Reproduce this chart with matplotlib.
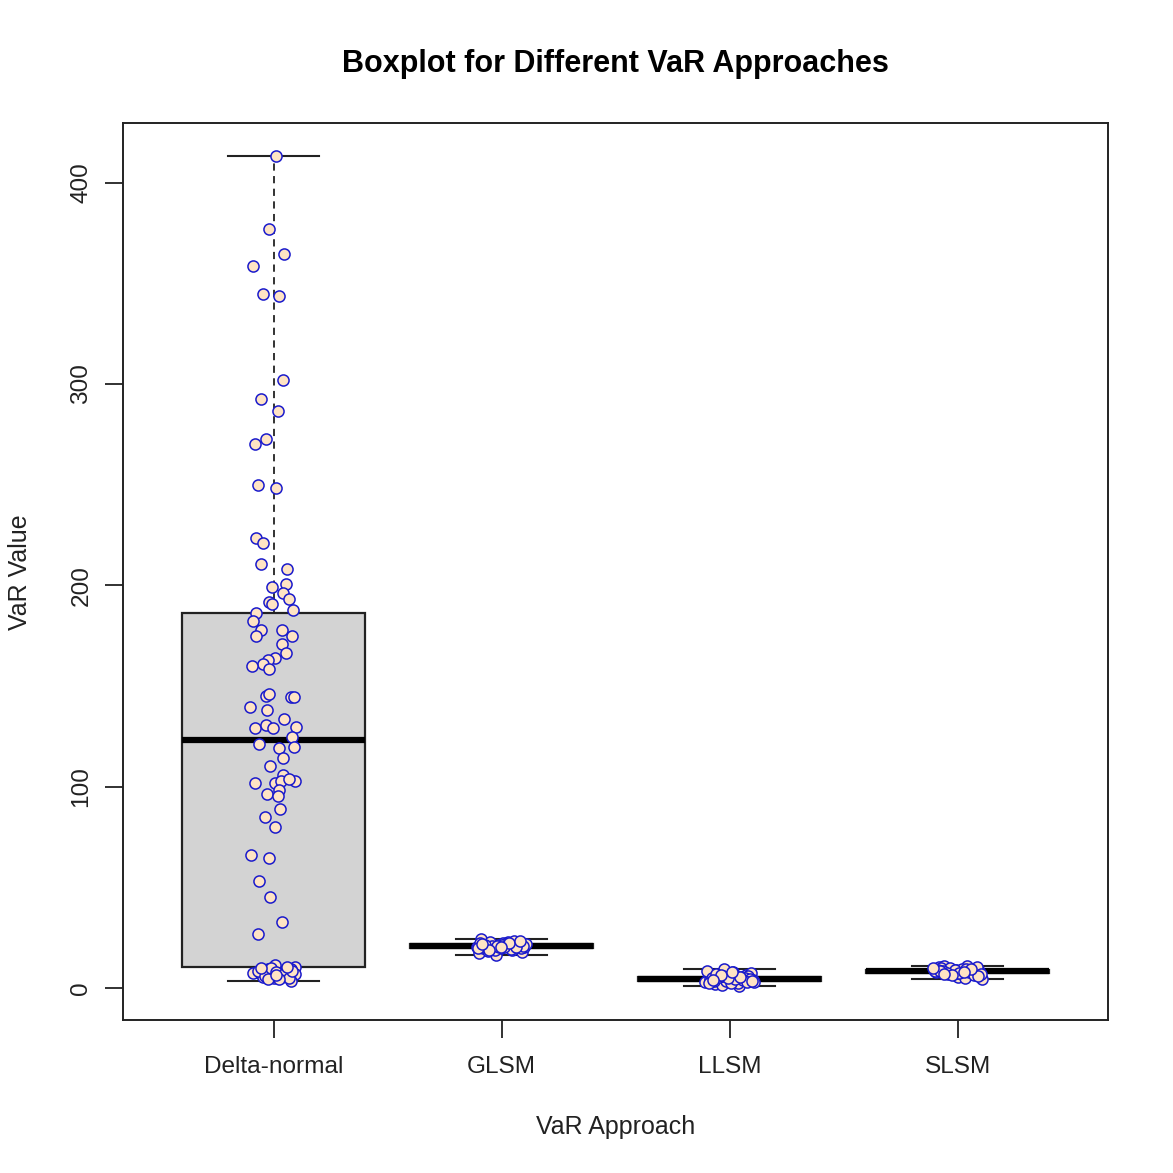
import matplotlib
matplotlib.use("Agg")
import matplotlib.pyplot as plt
from matplotlib import cbook
import numpy as np

plt.rcParams['font.family'] = ['Liberation Sans', 'DejaVu Sans']

# Categories
approaches = ["Delta-normal", "GLSM", "LLSM", "SLSM"]

# VaR values
delta_normal = [
    413.0, 377.0, 364.6, 358.5, 344.6, 343.8, 302.0, 292.6, 286.5, 272.5, 270.0,
    250.0, 248.3, 223.7, 221.2, 210.4, 208.3, 199.0, 200.5, 196.4, 193.4, 191.9,
    190.7, 187.6, 186.5, 182.5, 178.0, 177.7, 174.7, 174.7, 171.0, 166.4, 164.0,
    163.0, 160.8, 160.0, 158.3, 145.0, 146.0, 144.6, 144.6, 139.8, 138.3, 133.7,
    129.2, 130.4, 128.9, 129.4,
    124.8, 121.2, 119.0, 119.8, 114.1, 110.5, 106.0, 102.0, 102.0, 103.0, 102.7,
    103.6, 98.3, 96.6, 95.6, 88.7, 84.7, 80.0, 66.0, 64.7, 53.0, 45.3, 33.0, 26.6,
    11.4, 7.3, 7.0, 9.3, 7.3, 7.3, 9.0, 10.3, 9.3, 7.0, 5.0, 3.5, 5.6, 5.6,
    8.5, 6.2, 10.1, 8.0, 6.8, 5.1, 8.4, 9.8, 4.4, 10.4, 4.6, 6.5,
]
glsm = [
    20.8, 18.1, 22.5, 19.6, 21.3, 16.6, 20.4, 23.1, 19.9, 21.7, 20.1, 24.3,
    18.9, 21.0, 20.6, 22.0, 19.3, 20.8, 21.5, 17.4, 20.3, 22.8, 19.8, 21.2,
    20.0, 23.6, 19.1, 21.9, 20.7, 18.5, 21.4, 20.2, 22.2, 19.5, 20.9, 21.1,
    20.5, 21.6, 20.6, 21.0, 19.7, 22.4, 18.7, 23.4, 20.3, 21.8,
]
llsm = [
    4.3, 2.1, 6.6, 3.6, 5.0, 1.0, 4.1, 7.5, 3.8, 5.5, 4.0, 9.4,
    2.9, 4.6, 4.3, 5.9, 3.3, 4.5, 5.3, 1.6, 3.9, 8.1, 3.4, 4.9,
    3.7, 8.7, 2.7, 5.7, 4.4, 2.4, 5.2, 4.2, 6.2, 3.1, 4.7, 7.0,
    3.2, 4.8, 2.6, 5.6, 6.4, 3.5, 7.8, 4.2,
]
slsm = [
    8.4, 5.6, 10.2, 7.6, 8.9, 4.3, 8.2, 10.8, 7.8, 9.2, 8.0, 11.1,
    6.8, 8.6, 8.4, 9.7, 7.2, 8.5, 9.1, 5.0, 8.1, 10.5, 7.7, 8.8,
    7.9, 9.9, 7.0, 9.3, 8.7, 6.5, 9.0, 8.3, 9.5, 7.4, 6.1,
    7.5, 8.6, 9.4, 6.3, 10.0, 8.1, 7.1,
]

# horizontal jitter of the Delta-normal points (in box units)
dn_jitter = [
    0.012, -0.022, 0.048, -0.088, -0.048, 0.022, 0.043, -0.054, 0.021, -0.035, -0.082,
    -0.069, 0.013, -0.078, -0.047, -0.057, 0.060, -0.006, 0.056, 0.043, 0.067, -0.019,
    -0.006, 0.085, -0.075, -0.089, -0.057, 0.035, -0.078, 0.082, 0.035, 0.054, 0.007,
    -0.025, -0.045, -0.096, -0.022, -0.035, -0.021, 0.075, 0.088, -0.104, -0.028, 0.048,
    -0.080, -0.035, -0.004, 0.097,
    0.082, -0.063, 0.026, 0.089, 0.043, -0.014, 0.043, -0.082, 0.007, 0.032, 0.092,
    0.066, 0.026, -0.028, 0.021, 0.028, -0.039, 0.006, -0.098, -0.021, -0.063, -0.014,
    0.035, -0.069,
    0.007, -0.088, -0.057, -0.023, -0.014, 0.022, 0.053, 0.092, 0.078, 0.092, 0.001,
    0.078, -0.047, 0.035,
    -0.070, -0.039, -0.009, 0.013, 0.044, 0.066, 0.083, -0.053, 0.026, 0.057, -0.026,
    0.009,
]

groups = [delta_normal, glsm, llsm, slsm]
positions = np.arange(1, len(groups) + 1)


def r_hinges(vals):
    """Tukey hinges like R's fivenum()."""
    x = np.sort(np.asarray(vals, dtype=float))
    n = len(x)
    n4 = np.floor((n + 3) / 2) / 2
    d = np.array([1, n4, (n + 1) / 2, n + 1 - n4, n]) - 1
    return 0.5 * (x[np.floor(d).astype(int)] + x[np.ceil(d).astype(int)])


stats = cbook.boxplot_stats(groups, whis=(0, 100))
for st, vals in zip(stats, groups):
    f = r_hinges(vals)
    st["q1"], st["med"], st["q3"] = f[1], f[2], f[3]
    st["whislo"], st["whishi"] = f[0], f[4]

fig = plt.figure(figsize=(11.73, 11.73), dpi=100)
ax = fig.add_axes([0.1049, 0.1304, 0.8397, 0.7647])

ax.bxp(
    stats,
    positions=positions,
    widths=0.8,
    capwidths=0.4,
    patch_artist=True,
    showfliers=False,
    boxprops=dict(facecolor="#d3d3d3", edgecolor="#222222", linewidth=1.6),
    medianprops=dict(color="black", linewidth=4.5, solid_capstyle="butt"),
    whiskerprops=dict(color="#222222", linewidth=1.3, linestyle=(0, (4, 3))),
    capprops=dict(color="#222222", linewidth=1.5),
    zorder=1,
)

# jittered points
for k, vals in enumerate(groups):
    if k == 0:
        jit = np.array(dn_jitter)
    else:
        idx = np.arange(len(vals))
        jit = ((idx * 0.618034 + 0.3 * k) % 1.0 - 0.5) * 0.22
    ax.scatter(positions[k] + jit, vals, s=64, marker="o",
               facecolor="#ffe4c4", edgecolor="#1a1acc", linewidth=1.1, zorder=3)

ax.set_xlim(0.34, 4.66)
ax.set_ylim(-15.9, 429.6)
ax.set_xticks(positions)
ax.set_xticklabels(approaches)
ax.set_yticks([0, 100, 200, 300, 400])
ax.set_yticklabels(["0", "100", "200", "300", "400"], rotation=90, va="center")

ax.tick_params(axis="both", direction="out", length=13, width=1.3,
               color="#222222", labelsize=17.6, labelcolor="#222222")
ax.tick_params(axis="x", pad=13)
ax.tick_params(axis="y", pad=9)
for sp in ax.spines.values():
    sp.set_linewidth(1.4)
    sp.set_color("#222222")

fig.text(0.5245, 1 - 1127 / 1173, "VaR Approach", ha="center", va="center",
         fontsize=18, color="#222222")
fig.text(20 / 1173, 1 - 572 / 1173, "VaR Value", ha="center", va="center",
         rotation=90, fontsize=18, color="#222222")
fig.text(0.5245, 1 - 64 / 1173, "Boxplot for Different VaR Approaches", ha="center",
         va="center", fontsize=22, fontweight="bold", color="black")

fig.savefig("out.png", dpi=100)
